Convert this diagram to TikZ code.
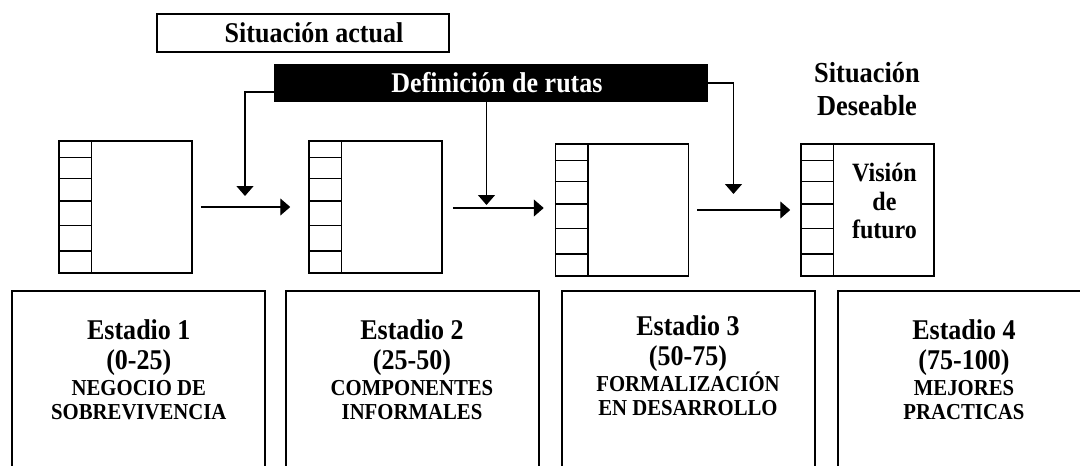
\documentclass[tikz,border=0pt]{standalone}
\usepackage{fontspec}
\setmainfont{Liberation Serif}[FakeStretch=0.91]
\usetikzlibrary{arrows.meta,positioning,calc}
\tikzset{
  sq/.style={draw,line width=1.5pt,minimum width=133pt,minimum height=132pt,inner sep=0pt},
  row/.style={line width=1.5pt},
  stagebox/.style={draw,line width=2pt,anchor=north,minimum width=253pt,minimum height=200pt},
  bigtext/.style={inner sep=0pt,font=\bfseries\fontsize{28.6}{32}\selectfont},
  capstext/.style={inner sep=0pt,anchor=base,font=\bfseries\fontsize{22.8}{26}\selectfont},
  flow/.style={line width=1.4pt,-{Triangle[length=10pt,width=17pt]}},
}
\begin{document}
\begin{tikzpicture}[x=1pt,y=-1pt]
  \useasboundingbox (0,0) rectangle (1080,466);
  \clip (0,0) rectangle (1080,466);
  \def\rows{0.128,0.286,0.455,0.637,0.831}
  \def\lw{33}

  \node[draw,line width=1.5pt,minimum width=292pt,minimum height=38pt,bigtext] (actual) at (303,33) {\hspace*{22pt}Situación actual};
  \node[fill=black,text=white,minimum width=434pt,minimum height=38pt,bigtext] (rutas) at (491,83) {\hspace*{12pt}Definición de rutas};
  \node[align=center,inner sep=0pt,font=\bfseries\fontsize{29}{33}\selectfont] (deseable) at (867,89) {Situación\\Deseable};

  \foreach \cx/\cy [count=\i] in {125.5/207,375.5/207,622/210,867.5/210} {
    \node[sq] (q\i) at (\cx,\cy) {};
    \draw[row] ([xshift=\lw pt]q\i.north west) -- ([xshift=\lw pt]q\i.south west);
    \foreach \f in \rows
      \draw[row] ($(q\i.north west)!\f!(q\i.south west)$) -- ++(\lw,0);
  }
  \node[align=center,inner sep=0pt,font=\bfseries\fontsize{26.4}{28.5}\selectfont] (vision) at (884.5,201) {Visión\\de\\futuro};

  \draw[flow,shorten <=8pt,shorten >=18pt] (q1.east) -- (q2.west);
  \draw[flow,shorten <=10pt,shorten >=11pt] ([yshift=-1pt]q2.east) -- ([yshift=-1pt]q2.east -| q3.west);
  \draw[flow,shorten <=8pt,shorten >=10pt] (q3.east) -- (q4.west);

  \coordinate (in1) at (245,196);
  \coordinate (in2) at (486.5,205);
  \coordinate (in3) at (733.5,194);
  \draw[flow] ([yshift=-9pt]rutas.west) -| (in1);
  \draw[flow] (rutas.south -| in2) -- (in2);
  \draw[flow] (rutas.east) -| (in3);

  \foreach \cx/\dy/\la/\lb/\lc/\ld [count=\i] in {
      138.8/0/Estadio 1/(0-25)/NEGOCIO DE/SOBREVIVENCIA,
      412/0/Estadio 2/(25-50)/COMPONENTES/INFORMALES,
      688/-4/Estadio 3/(50-75)/FORMALIZACIÓN/EN DESARROLLO,
      964/0/Estadio 4/(75-100)/MEJORES/PRACTICAS} {
    \node[stagebox] (b\i) at (\cx,290) {};
    \node[bigtext,anchor=base] (h\i) at (\cx,{339+\dy}) {\la};
    \node[bigtext,anchor=base] (r\i) at ([yshift=-30pt]h\i.base) {\lb};
    \node[capstext] (c\i) at ([yshift=-26pt]r\i.base) {\lc};
    \node[capstext] (d\i) at ([yshift=-24.5pt]c\i.base) {\ld};
  }
\end{tikzpicture}
\end{document}
